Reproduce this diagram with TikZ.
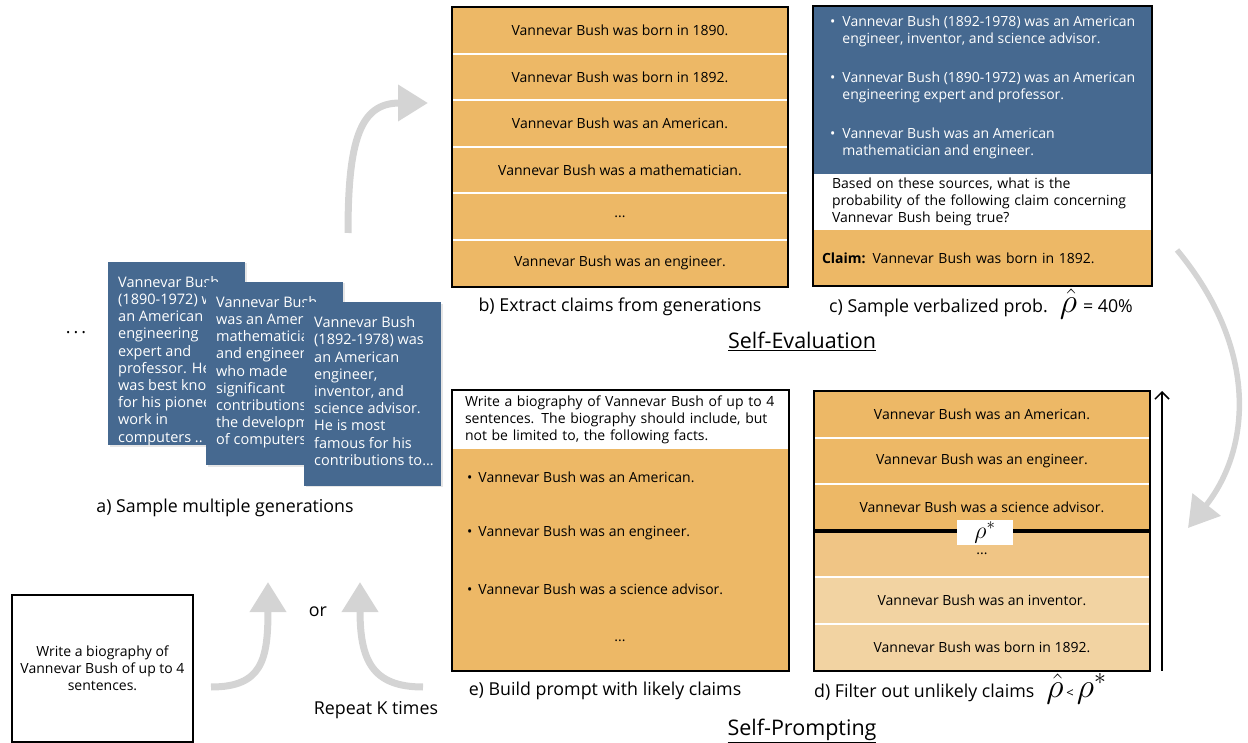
\RequirePackage{fix-cm}
\documentclass[tikz,border=0pt]{standalone}
\usepackage[no-math]{fontspec}
\setmainfont{Open Sans}
\usepackage{tikz}
\usetikzlibrary{positioning, arrows.meta, shadows}

\definecolor{claimorange}{RGB}{237,184,102}
\definecolor{midorange}{RGB}{240,197,133}
\definecolor{paleorange}{RGB}{242,211,162}
\definecolor{genblue}{RGB}{70,105,144}
\definecolor{flowgray}{RGB}{212,212,212}

\newcommand{\bitem}[2]{\begin{tabular}[t]{@{}l@{\hspace{7pt}}l@{}}\textbullet & #1\\ & #2\end{tabular}}
\newcommand{\bigrho}[1]{{\fontsize{34}{34}\selectfont$#1$}}

\begin{document}
\begin{tikzpicture}[
        x=1pt, y=-1pt,
        node distance=0pt,
        boxtext/.style={font=\fontsize{14}{17}\selectfont},
        row/.style={fill=claimorange, minimum width=336, minimum height=46.6, inner sep=0pt, outer sep=0pt, boxtext},
        panel/.style={minimum width=339, inner sep=0pt, outer sep=0pt, boxtext},
        card/.style={fill=genblue, minimum width=137, minimum height=183, inner sep=0pt, outer sep=0pt,
            drop shadow={opacity=0.2, shadow xshift=1.5pt, shadow yshift=-1.5pt}},
        cardtext/.style={anchor=north west, align=left, text=white, inner xsep=10pt, inner ysep=14pt, font=\fontsize{14.5}{17.2}\selectfont},
        item/.style={anchor=west, inner sep=0pt, boxtext},
        caption/.style={font=\fontsize{17.8}{21}\selectfont, inner sep=0pt},
        heading/.style={font=\fontsize{21.5}{24}\selectfont, inner sep=0pt},
        frame/.style={draw=black, line width=2pt},
        flow/.style={draw=flowgray, line width=7pt, -{Triangle[width=35pt, length=30pt]}}
        ]
        \useasboundingbox (0,0) rectangle (1248,743);

        % Generations
        \node[card] (gen1) at (176.5,353.5) {};
        \node[cardtext] (gtext1) at (gen1.north west) {Vannevar Bush\\(1890-1972) was\\an American\\engineering\\expert and\\professor. He\\was best known\\for his pioneering\\work in\\computers ..};
        \node[card] (gen2) at (274.5,373.5) {};
        \node[cardtext] (gtext2) at (gen2.north west) {Vannevar Bush\\was an American\\mathematician\\and engineer\\who made\\significant\\contributions to\\the development\\of computers.};
        \node[card] (gen3) at (372.5,394) {};
        \node[cardtext] (gtext3) at (gen3.north west) {Vannevar Bush\\(1892-1978) was\\an American\\engineer,\\inventor, and\\science advisor.\\He is most\\famous for his\\contributions to...};
        \node[caption] (more) at (76,333) {.\,.\,.};
        \node[caption] (capa) at (225,508) {a) Sample multiple generations};

        % Extracted claims
        \node[row] (b1) at (620,30.3) {Vannevar Bush was born in 1890.};
        \node[row, below=of b1] (b2) {Vannevar Bush was born in 1892.};
        \node[row, below=of b2] (b3) {Vannevar Bush was an American.};
        \node[row, below=of b3] (b4) {Vannevar Bush was a mathematician.};
        \node[row, below=of b4] (b5) {...};
        \node[row, below=of b5] (b6) {Vannevar Bush was an engineer.};
        \foreach \i in {1,...,5}
            \draw[white, line width=2pt] (b\i.south west) -- (b\i.south east);
        \draw[frame] (b1.north west) rectangle (b6.south east);
        \node[caption] (capb) at (620,307) {b) Extract claims from generations};

        % Verbalized probability
        \node[panel, fill=genblue, minimum height=168] (cblue) at (982.5,90) {};
        \node[panel, fill=white, minimum height=56, text width=301, inner xsep=19pt, align=left, below=of cblue] (cwhite)
            {Based on these sources, what is the\\probability of the following claim concerning\\Vannevar Bush being true?};
        \node[panel, fill=claimorange, minimum height=56, text width=321, inner xsep=9pt, align=left, below=of cwhite] (cclaim)
            {\textbf{Claim:} Vannevar Bush was born in 1892.};
        \node[item, text=white] (s1) at (830,32) {\bitem{Vannevar Bush (1892-1978) was an American}{engineer, inventor, and science advisor.}};
        \node[item, text=white] (s2) at (830,88) {\bitem{Vannevar Bush (1890-1972) was an American}{engineering expert and professor.}};
        \node[item, text=white] (s3) at (830,144) {\bitem{Vannevar Bush was an American}{mathematician and engineer.}};
        \draw[frame] (cblue.north west) rectangle (cclaim.south east);
        \node[caption, anchor=base west] (capc) at (829,313) {c) Sample verbalized prob.\hspace{12pt}\bigrho{\hat{\rho}}\hspace{6pt}= 40\%};
        \node[heading] (selfeval) at (802,341) {\underline{Self-Evaluation}};

        % Filtered claims
        \node[row] (d1) at (982,414.3) {Vannevar Bush was an American.};
        \node[row, below=of d1] (d2) {Vannevar Bush was an engineer.};
        \node[row, below=of d2] (d3) {Vannevar Bush was a science advisor.};
        \node[row, fill=midorange, below=of d3] (d4) {...};
        \node[row, fill=paleorange, below=of d4] (d5) {Vannevar Bush was an inventor.};
        \node[row, fill=paleorange, below=of d5] (d6) {Vannevar Bush was born in 1892.};
        \foreach \i in {1,2,4,5}
            \draw[white, line width=2pt] (d\i.south west) -- (d\i.south east);
        \draw[line width=4.5pt] (d3.south west) -- (d3.south east);
        \node[fill=white, minimum width=56, minimum height=25, inner sep=0pt] (thresh) at ([xshift=3pt, yshift=-1.5pt]d3.south) {\fontsize{24}{24}\selectfont$\rho^{*}$};
        \draw[frame] (d1.north west) rectangle (d6.south east);
        \coordinate (rank0) at ([xshift=12pt]d6.south east);
        \coordinate (rank1) at ([xshift=12pt]d1.north east);
        \draw[line width=1.5pt, -{Straight Barb[length=7pt, width=14pt]}] (rank0) -- (rank1);
        \node[caption, anchor=base west] (capd) at (814,697) {d) Filter out unlikely claims\hspace{12pt}\bigrho{\hat{\rho}}\hspace{3pt}{\fontsize{13}{13}\selectfont<}\hspace{3pt}\bigrho{\rho^{*}}};

        % New prompt
        \node[panel, fill=white, minimum width=337, minimum height=59, text width=311, inner xsep=13pt, align=left] (ewhite) at (620.5,419.5)
            {Write a biography of Vannevar Bush of up to 4\\sentences. The biography should include, but\\not be limited to, the following facts.};
        \node[panel, fill=claimorange, minimum width=337, minimum height=222, below=of ewhite] (eorange) {};
        \node[item] (e1) at (467,477) {\textbullet\hspace{6pt}Vannevar Bush was an American.};
        \node[item] (e2) at (467,533) {\textbullet\hspace{6pt}Vannevar Bush was an engineer.};
        \node[item] (e3) at (467,589) {\textbullet\hspace{6pt}Vannevar Bush was a science advisor.};
        \node[boxtext] (edots) at (620,641) {...};
        \draw[frame] (ewhite.north west) rectangle (eorange.south east);
        \node[caption] (cape) at (605,691) {e) Build prompt with likely claims};
        \node[heading] (selfprompt) at (802,731) {\underline{Self-Prompting}};

        % Initial prompt
        \node[frame, minimum width=181, minimum height=147, align=center, boxtext] (prompt) at (102.5,668.5)
            {Write a biography of\\Vannevar Bush of up to 4\\sentences.};
        \node[caption] (ortext) at (318,612) {or};
        \node[caption] (repeat) at (376,710) {Repeat K times};

        % Flow arrows
        \coordinate (f1s) at (348,233);
        \coordinate (f1e) at (428,103);
        \coordinate (f2s) at (1177,250);
        \coordinate (f2e) at (1188,528);
        \coordinate (f3s) at (211,687);
        \coordinate (f3e) at (268,582);
        \coordinate (f4s) at (423,687);
        \coordinate (f4e) at (360,582);
        \draw[flow] (f1s) .. controls (348,140) and (360,103) .. (f1e);
        \draw[flow, line width=5.5pt] (f2s) .. controls (1260,350) and (1250,450) .. (f2e);
        \draw[flow] (f3s) .. controls (262,687) and (268,660) .. (f3e);
        \draw[flow] (f4s) .. controls (372,687) and (360,660) .. (f4e);
    \end{tikzpicture}
\end{document}
